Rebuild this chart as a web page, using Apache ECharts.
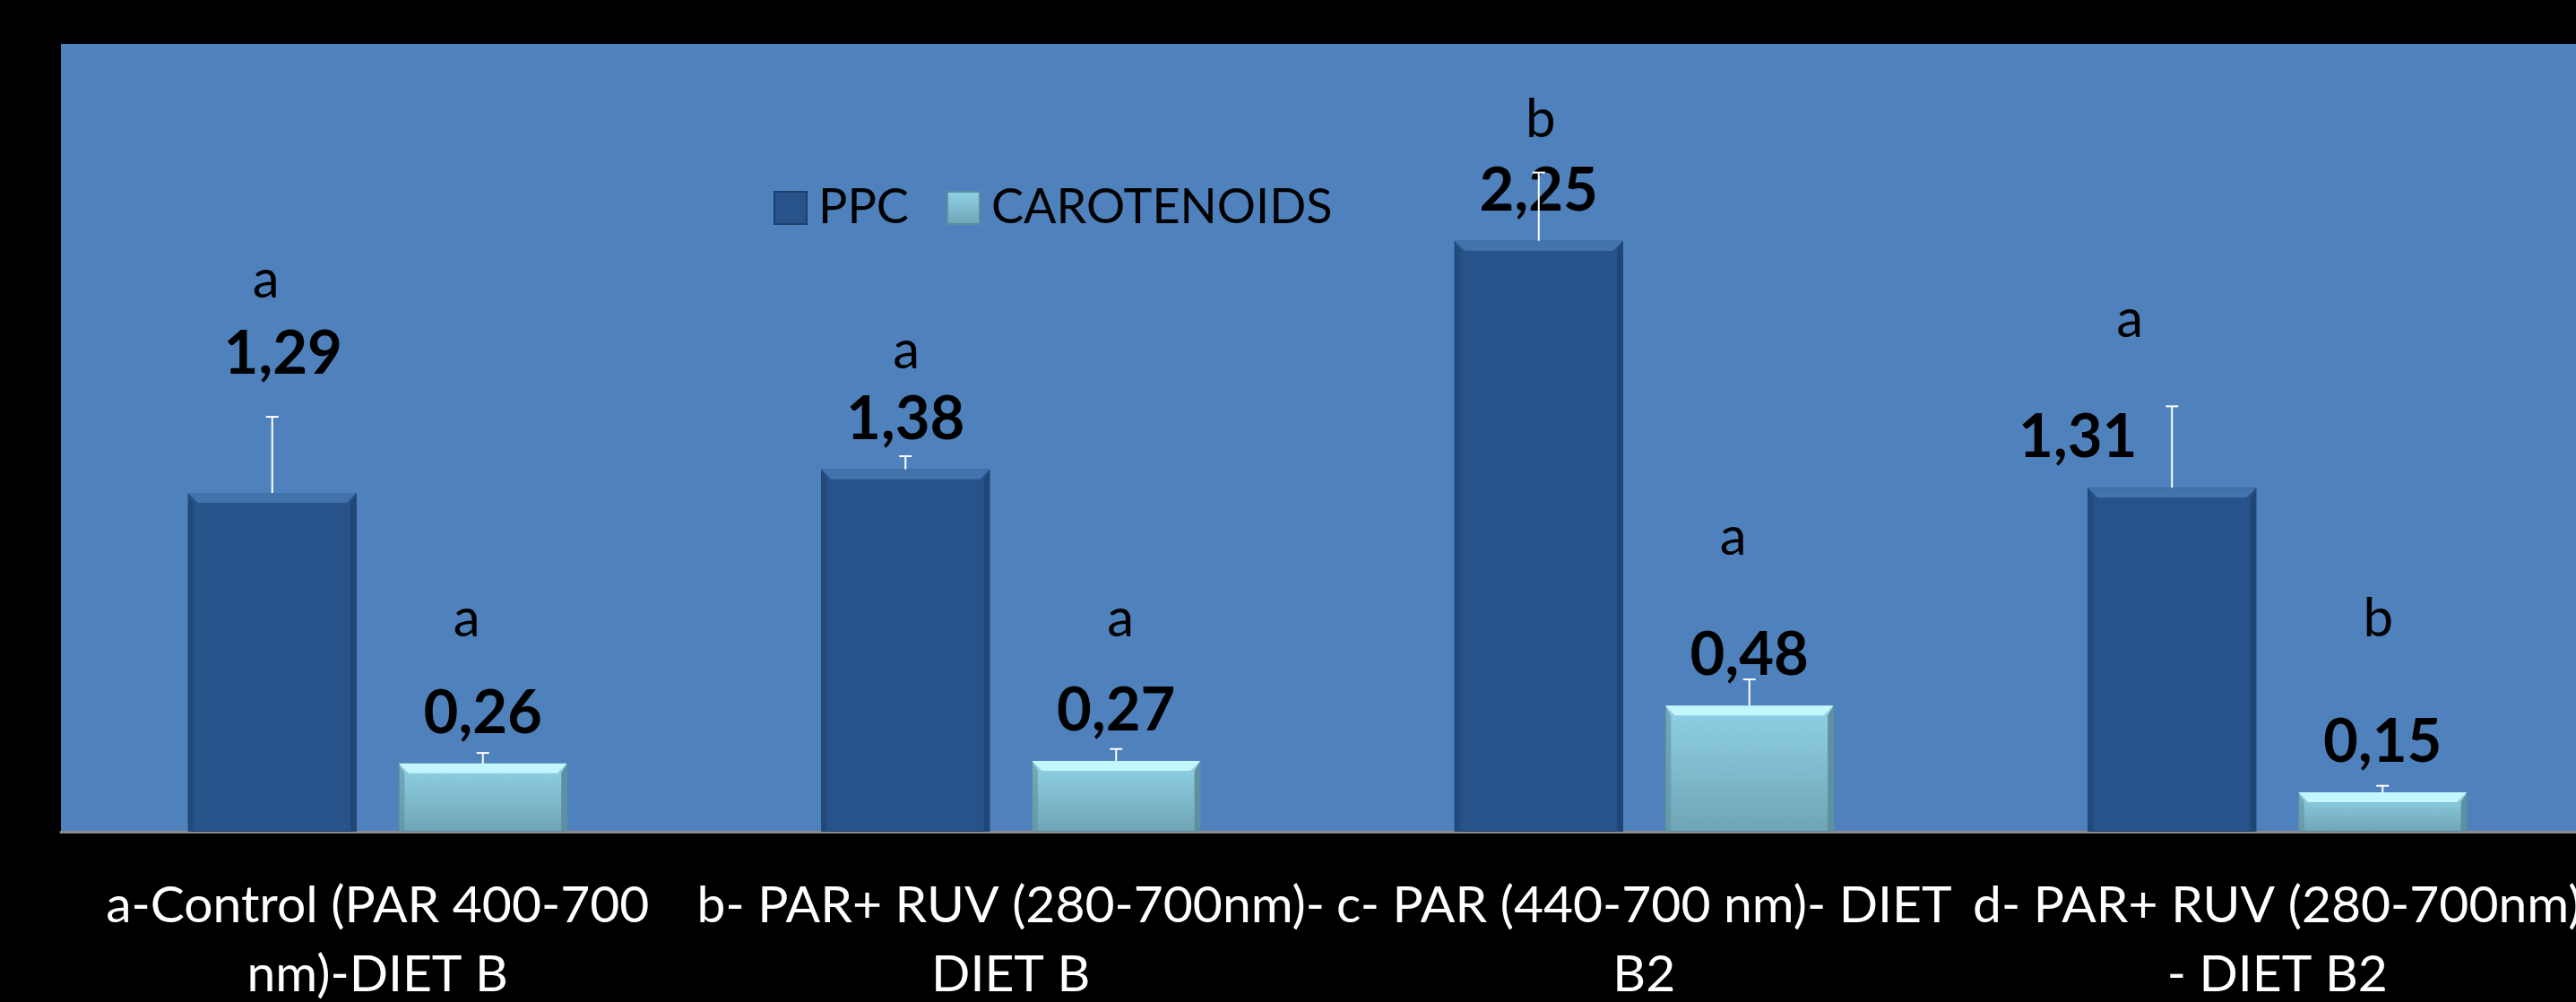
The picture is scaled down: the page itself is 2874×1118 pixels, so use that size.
<!DOCTYPE html>
<html>
<head>
<meta charset="utf-8">
<script src="https://cdn.jsdelivr.net/npm/echarts@6/dist/echarts.min.js"></script>
<style>
html, body { margin: 0; padding: 0; background: #000; }
#chart { width: 2874px; height: 1118px; }
</style>
</head>
<body>
<div id="chart"></div>
<script>
var categories = [
    'a-Control (PAR 400-700\nnm)-DIET B',
    'b- PAR+ RUV (280-700nm)-\nDIET B',
    'c- PAR (440-700 nm)- DIET\nB2',
    'd- PAR+ RUV (280-700nm)\n- DIET B2'
];
var ppc = [1.29, 1.38, 2.25, 1.31];
var ppcErr = [0.29, 0.05, 0.26, 0.31];
var ppcLetters = ['a', 'a', 'b', 'a'];
var carotenoids = [0.26, 0.27, 0.48, 0.15];
var carErr = [0.04, 0.045, 0.10, 0.025];
var carLetters = ['a', 'a', 'a', 'b'];

// where the letters were placed by hand (value units) + small nudges in px
var ppcLetterAt = [2.10, 1.83, 2.71, 1.95];
var carLetterAt = [0.81, 0.81, 1.12, 0.81];
var ppcLetterDx = [-7, 1, 2, -47];
var carLetterDx = [-18, 5, -18, -5];
var ppcLabelShift = [[12, -99], [0, 0], [0, 0], [-105, 0]];

var FONT = 'Lato';
var BAR_W = 188;
var BAR_GAP = 47;
var HALF = (BAR_W + BAR_GAP) / 2;
var BEVEL = 11;

function fmt(p) {
    return p.value.toFixed(2).replace('.', ',');
}

function overlay(values, errs, letters, letterAt, letterDx, dx, light, dark) {
    return function (params, api) {
        var i = params.dataIndex;
        var base = api.coord([i, 0]);
        var top = api.coord([i, values[i]]);
        var errTop = api.coord([i, values[i] + errs[i]]);
        var lp = api.coord([i, letterAt[i]]);
        var cx = base[0] + dx;
        var l = cx - BAR_W / 2, r = cx + BAR_W / 2, t = top[1], b = base[1];
        var k = Math.min(BEVEL, (b - t) / 2);
        return {
            type: 'group',
            children: [
                { type: 'polygon', shape: { points: [[l, t], [r, t], [r - k, t + k], [l + k, t + k]] },
                  style: { fill: light } },
                { type: 'polygon', shape: { points: [[r, t], [r, b], [r - k * 0.6, b], [r - k * 0.6, t + k]] },
                  style: { fill: dark } },
                { type: 'polygon', shape: { points: [[l, t], [l + k * 0.6, t + k], [l + k * 0.6, b], [l, b]] },
                  style: { fill: dark, opacity: 0.6 } },
                { type: 'line', shape: { x1: cx, y1: t, x2: cx, y2: errTop[1] },
                  style: { stroke: '#fff', lineWidth: 2 } },
                { type: 'line', shape: { x1: cx - 7, y1: errTop[1], x2: cx + 7, y2: errTop[1] },
                  style: { stroke: '#fff', lineWidth: 2 } },
                { type: 'text', x: cx + letterDx[i], y: lp[1],
                  style: { text: letters[i], fill: '#000', font: '60px ' + FONT,
                           align: 'center', verticalAlign: 'middle' } }
            ]
        };
    };
}

var chart = echarts.init(document.getElementById('chart'));

var option = {
    backgroundColor: '#000',
    animation: false,
    grid: {
        left: 68, top: 49, width: 2826, height: 879,
        outerBoundsMode: 'none', containLabel: false,
        show: true, backgroundColor: '#4F81BD', borderWidth: 0
    },
    legend: {
        data: ['PPC', 'CAROTENOIDS'],
        left: 858, top: 200,
        icon: 'rect',
        itemWidth: 36, itemHeight: 36, itemGap: 42,
        textStyle: { color: '#000', fontSize: 54, fontFamily: FONT, lineHeight: 40, padding: [0, 0, 0, 8] }
    },
    xAxis: {
        type: 'category',
        data: categories,
        axisLine: { lineStyle: { color: '#8c8c8c', width: 3 } },
        axisTick: { show: false },
        axisLabel: {
            interval: 0, color: '#fff', fontSize: 57, fontFamily: FONT,
            lineHeight: 77, margin: 44
        }
    },
    yAxis: {
        type: 'value', min: 0, max: 3,
        axisLine: { show: false }, axisTick: { show: false },
        axisLabel: { show: false }, splitLine: { show: false }
    },
    series: [
        {
            name: 'PPC', type: 'bar', barWidth: BAR_W, barGap: (BAR_GAP / BAR_W * 100) + '%',
            itemStyle: { color: '#27528A', borderColor: '#1d3f6c', borderWidth: 1 },
            label: {
                show: true, position: 'top', distance: 22, formatter: fmt,
                color: '#000', fontSize: 67, fontWeight: 'bold', fontFamily: FONT
            },
            data: ppc.map(function (v, i) {
                return { value: v, label: { offset: ppcLabelShift[i] } };
            })
        },
        {
            name: 'CAROTENOIDS', type: 'bar', barWidth: BAR_W,
            itemStyle: {
                color: new echarts.graphic.LinearGradient(0, 0, 0, 1, [
                    { offset: 0, color: '#90D2E6' },
                    { offset: 1, color: '#6FA4B6' }
                ]),
                borderColor: '#5f8e9e', borderWidth: 1
            },
            label: {
                show: true, position: 'top', distance: 22, formatter: fmt,
                color: '#000', fontSize: 67, fontWeight: 'bold', fontFamily: FONT
            },
            data: carotenoids
        },
        {
            type: 'custom', z: 5, silent: true,
            renderItem: overlay(ppc, ppcErr, ppcLetters, ppcLetterAt, ppcLetterDx, -HALF, '#4373ad', '#1f4675'),
            data: ppc.map(function (v, i) { return [i, v]; }),
            encode: { x: 0, y: 1 }
        },
        {
            type: 'custom', z: 5, silent: true,
            renderItem: overlay(carotenoids, carErr, carLetters, carLetterAt, carLetterDx, HALF, '#c4f6fd', '#5f909f'),
            data: carotenoids.map(function (v, i) { return [i, v]; }),
            encode: { x: 0, y: 1 }
        }
    ]
};

chart.setOption(option);
</script>
</body>
</html>
